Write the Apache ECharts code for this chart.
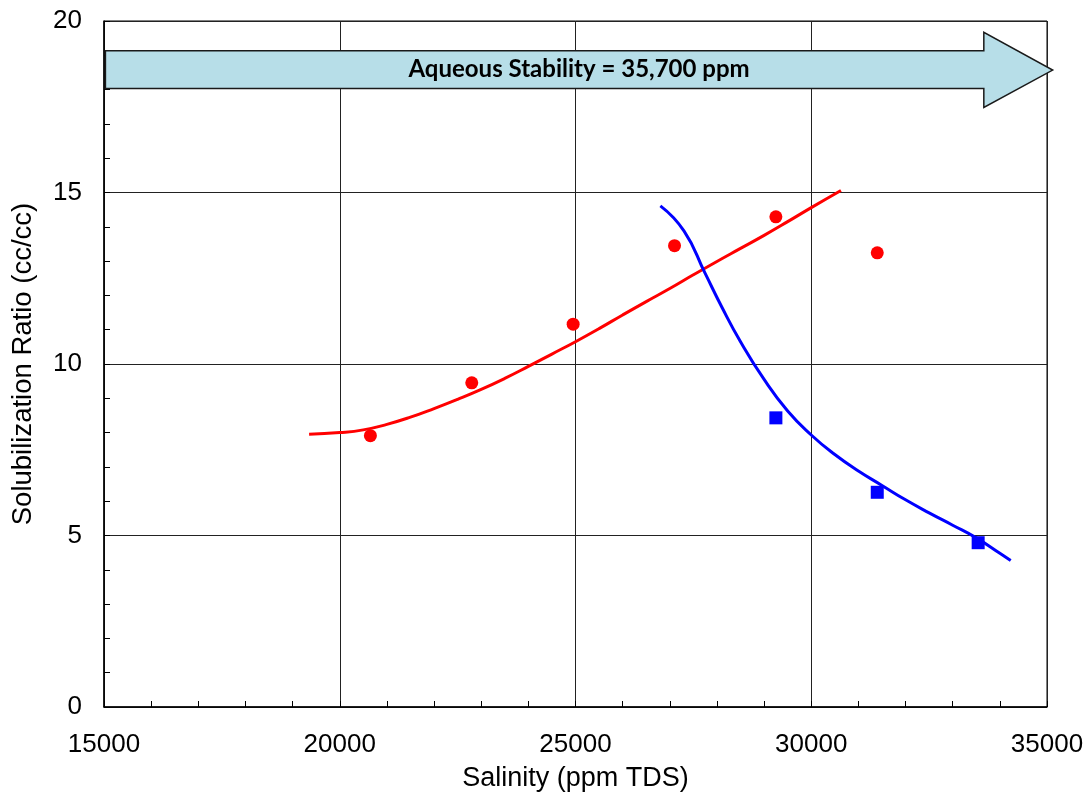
<!DOCTYPE html>
<html>
<head>
<meta charset="utf-8">
<title>Solubilization Ratio vs Salinity</title>
<script src="https://cdn.jsdelivr.net/npm/echarts@6/dist/echarts.min.js"></script>
<style>
  html, body { margin: 0; padding: 0; background: #fff; }
  #main { width: 1089px; height: 800px; }
</style>
</head>
<body>
<div id="main"></div>
<script>
// measured points (salinity ppm, ratio cc/cc)
var oilPoints = [[20650, 7.91], [22800, 9.45], [24950, 11.16], [27100, 13.45], [29250, 14.29], [31400, 13.24]];
var waterPoints = [[29250, 8.43], [31400, 6.26], [33540, 4.79]];

// fitted curves
var oilCurve = [[19350, 7.95], [20000, 8.0], [20500, 8.08], [21000, 8.24], [21500, 8.45], [22000, 8.7],
  [22500, 8.97], [23000, 9.26], [23500, 9.58], [24000, 9.93], [24500, 10.29], [25000, 10.65],
  [25500, 11.03], [26000, 11.43], [26500, 11.82], [27000, 12.2], [27500, 12.6], [28000, 12.99],
  [28500, 13.37], [29000, 13.75], [29500, 14.15], [30000, 14.56], [30630, 15.06]];
var waterCurve = [[26800, 14.61], [27300, 13.88], [27750, 12.64], [28100, 11.67], [28500, 10.65],
  [29000, 9.55], [29500, 8.63], [30000, 7.93], [30500, 7.36], [31000, 6.88], [31500, 6.46],
  [32000, 6.04], [32500, 5.66], [33000, 5.3], [33500, 4.93], [34000, 4.48], [34230, 4.27]];

// arrow outline in data units
var arrowOutline = [[15030, 19.13], [33660, 19.13], [33660, 19.67], [35120, 18.57],
  [33660, 17.48], [33660, 18.03], [15030, 18.03]];
var arrowLabel = 'Aqueous Stability = 35,700 ppm';

var chart = echarts.init(document.getElementById('main'));

var axisFont = 'Liberation Sans, Arial, sans-serif';

chart.setOption({
  animation: false,
  grid: { left: 104, right: 42, top: 21, bottom: 93, show: true, borderColor: '#000', borderWidth: 1, containLabel: false },
  xAxis: {
    type: 'value', min: 15000, max: 35000, interval: 5000,
    name: 'Salinity (ppm TDS)', nameLocation: 'middle', nameGap: 58,
    nameTextStyle: { fontFamily: axisFont, fontSize: 27, color: '#000' },
    axisLine: { lineStyle: { color: '#000', width: 1.5 } },
    axisTick: { inside: true, length: 6, lineStyle: { color: '#000' } },
    minorTick: { show: true, splitNumber: 5, length: 6, lineStyle: { color: '#000' } },
    axisLabel: { fontFamily: axisFont, fontSize: 26, color: '#000', margin: 25,
      formatter: function (v) { return String(v); } },
    splitLine: { lineStyle: { color: '#222', width: 1 } }
  },
  yAxis: {
    type: 'value', min: 0, max: 20, interval: 5,
    name: 'Solubilization Ratio (cc/cc)', nameLocation: 'middle', nameGap: 67,
    nameTextStyle: { fontFamily: axisFont, fontSize: 27.5, color: '#000' },
    axisLine: { show: true, lineStyle: { color: '#000', width: 1.5 } },
    axisTick: { show: true, inside: true, length: 6, lineStyle: { color: '#000' } },
    minorTick: { show: true, splitNumber: 5, length: 6, lineStyle: { color: '#000' } },
    axisLabel: { fontFamily: axisFont, fontSize: 26, color: '#000', margin: 22 },
    splitLine: { lineStyle: { color: '#222', width: 1 } }
  },
  series: [
    {
      type: 'custom',
      z: 3,
      data: [[25000, 18.6]],
      renderItem: function (params, api) {
        var pts = arrowOutline.map(function (p) { return api.coord(p); });
        var xs = pts.map(function (p) { return p[0]; });
        var cx = (Math.min.apply(null, xs) + Math.max.apply(null, xs)) / 2;
        var cy = (pts[0][1] + pts[5][1]) / 2;
        return {
          type: 'group',
          children: [
            { type: 'polygon', shape: { points: pts }, style: { fill: '#b7dee8', stroke: '#1a1a1a', lineWidth: 1.5 } },
            { type: 'text', style: { text: arrowLabel, x: cx, y: cy, align: 'center', verticalAlign: 'middle',
              font: 'bold 24px Lato, "Open Sans", sans-serif', fill: '#000' } }
          ]
        };
      }
    },
    {
      type: 'line', data: oilCurve, smooth: 0.5, showSymbol: false, z: 4,
      lineStyle: { color: '#ff0000', width: 3 }
    },
    {
      type: 'line', data: waterCurve, smooth: 0.5, showSymbol: false, z: 4,
      lineStyle: { color: '#0000ff', width: 3 }
    },
    {
      type: 'scatter', data: oilPoints, symbol: 'circle', symbolSize: 13, z: 5,
      itemStyle: { color: '#ff0000', opacity: 1 }
    },
    {
      type: 'scatter', data: waterPoints, symbol: 'rect', symbolSize: 13, z: 5,
      itemStyle: { color: '#0000ff', opacity: 1 }
    }
  ]
});
</script>
</body>
</html>
